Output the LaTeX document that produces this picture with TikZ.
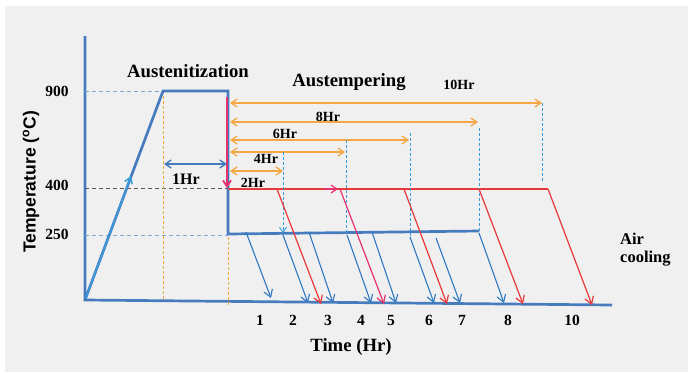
\documentclass[tikz,border=0pt]{standalone}
\usepackage{fontspec}
\setmainfont{Liberation Serif}
\newfontfamily\labelsans{Liberation Sans}
\usetikzlibrary{arrows.meta}

\definecolor{bggray}{RGB}{240,240,240}
\definecolor{axisblue}{RGB}{70,124,190}
\definecolor{coolblue}{RGB}{46,120,194}
\definecolor{guideblue}{RGB}{58,155,220}
\definecolor{paleblue}{RGB}{125,167,217}
\definecolor{hotred}{RGB}{232,56,58}
\definecolor{hotpink}{RGB}{230,51,111}
\definecolor{spanorange}{RGB}{244,167,66}

\begin{document}
\begin{tikzpicture}[
		x=1pt, y=-1pt,
		every node/.style={inner sep=0pt, font=\bfseries},
		axisline/.style={draw=axisblue, line width=2.7pt},
		route/.style={draw=axisblue, line width=2.7pt, line join=miter},
		cool/.style={-{Straight Barb[length=7pt,width=9pt]}, draw=coolblue, line width=1.1pt},
		hot/.style={-{Straight Barb[length=7pt,width=9pt]}, draw=hotred, line width=1.2pt},
		span/.style={{Straight Barb[length=6pt,width=8pt]}-{Straight Barb[length=6pt,width=8pt]}, draw=spanorange, line width=1.3pt},
		guide/.style={draw=guideblue, line width=0.9pt, dash pattern=on 3pt off 2pt},
		levelline/.style={line width=1pt, dash pattern=on 4pt off 3pt},
		holdmark/.style={draw=spanorange, line width=1pt, dash pattern=on 3pt off 2pt},
		head/.style={font=\bfseries\fontsize{18.7}{20}\selectfont},
		hr/.style={font=\bfseries\fontsize{14}{15}\selectfont},
		num/.style={font=\bfseries\fontsize{15.5}{16}\selectfont}
		]
		
		% frame
		\useasboundingbox (0,0) rectangle (690,373);
		\fill[bggray] (5,6) rectangle (688,372);
		
		% axes
		\coordinate (top) at (85,36);
		\coordinate (origin) at (85,300);
		\coordinate (xend) at (612,305);
		\draw[axisline] (top) -- (origin) -- (xend);
		
		% levels
		\draw[levelline, draw=paleblue] (85,91) -- (163,91);
		\draw[levelline, draw=black!65] (85,188) -- (228,188);
		\draw[levelline, draw=paleblue] (85,235) -- (228,235);
		\draw[holdmark] (163,91) -- (163,300);
		\draw[holdmark] (228,227) -- (228,305);
		
		% heat treatment route
		\coordinate (heated) at (163,91);
		\coordinate (quench) at (228,91);
		\coordinate (low) at (228,234);
		\coordinate (lowend) at (479,231);
		\draw[route] (origin) -- (heated) -- (quench) -- (low) -- (lowend);
		\draw[-{Straight Barb[length=6pt,width=8pt]}, draw=guideblue, line width=1.5pt] (86,298) -- (131,176);
		\draw[-{Straight Barb[length=6pt,width=8pt]}, draw=hotpink, line width=1.8pt] (227,97) -- (227,188);
		\draw[draw=hotred, line width=2.7pt] (228,189) -- (548,189);
		\draw[-{Straight Barb[length=6pt,width=8pt]}, draw=hotpink, line width=1.2pt] (324,189) -- (338,189);
		
		% holding times
		\draw[{Straight Barb[length=6pt,width=8pt]}-{Straight Barb[length=6pt,width=8pt]}, draw=axisblue, line width=1.4pt] (164,164) -- (227,164);
		\draw[span] (230,103) -- (542,103);
		\draw[span] (230,122) -- (478,122);
		\draw[span] (230,140) -- (409,140);
		\draw[span] (230,152) -- (345,152);
		\draw[span] (230,171) -- (283,171);
		
		% guides
		\draw[guide, -{Straight Barb[length=5pt,width=7pt]}] (283,152) -- (283,233);
		\draw[guide] (346,140) -- (346,235);
		\draw[guide] (410,133) -- (410,237);
		\draw[guide] (479,128) -- (479,237);
		\draw[guide] (542,103) -- (542,183);
		
		% air cooling
		\draw[cool] (246,232) -- (271,298);
		\draw[cool] (283,235) -- (308,303);
		\draw[hot] (277,189) -- (321,304);
		\draw[cool] (309,232) -- (333,303);
		\draw[cool] (347,235) -- (371,303);
		\draw[hot, draw=hotpink] (340,189) -- (384,304);
		\draw[cool] (372,232) -- (396,303);
		\draw[cool] (410,237) -- (434,303);
		\draw[hot] (404,189) -- (447,304);
		\draw[cool] (436,238) -- (460,303);
		\draw[cool] (479,233) -- (504,303);
		\draw[hot] (479,189) -- (523,304);
		\draw[hot] (548,189) -- (592,305);
		
		% labels
		\node[head] (aust) at (188,71) {Austenitization};
		\node[head] (temper) at (349,82) {Austempering};
		\node[font=\bfseries\fontsize{16}{17}\selectfont] (onehr) at (186,179) {1Hr};
		\node[hr] (two) at (253,183) {2Hr};
		\node[hr] (four) at (266,159) {4Hr};
		\node[hr] (six) at (285,134) {6Hr};
		\node[hr] (eight) at (328,117) {8Hr};
		\node[hr] (ten) at (459,85) {10Hr};
		\node[num] (t900) at (57,91) {900};
		\node[num] (t400) at (57,185) {400};
		\node[num] (t250) at (57,234) {250};
		\node[num] (n1) at (260,320) {1};
		\node[num] (n2) at (293,320) {2};
		\node[num] (n3) at (328,320) {3};
		\node[num] (n4) at (361,320) {4};
		\node[num] (n5) at (391,320) {5};
		\node[num] (n6) at (429,320) {6};
		\node[num] (n7) at (462,320) {7};
		\node[num] (n8) at (508,320) {8};
		\node[num] (n10) at (572,320) {10};
		\node[head] (xlabel) at (351,347) {Time (Hr)};
		\node[font=\labelsans\bfseries\fontsize{17.5}{19}\selectfont, rotate=90] (ylabel) at (31,182) {Temperature (\textsuperscript{o}C)};
		\node[font=\bfseries\fontsize{16.5}{18}\selectfont, align=left, anchor=north west] (air) at (620,233) {Air\\cooling};
		
	\end{tikzpicture}
\end{document}
